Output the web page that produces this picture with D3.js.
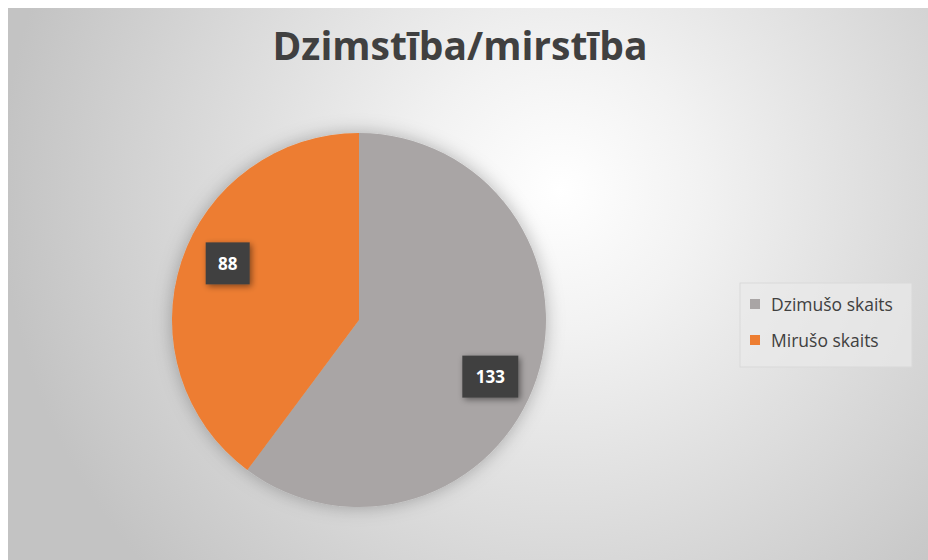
<!doctype html>
<html>
  <head>
    <meta charset="utf-8">
    <script src="https://cdnjs.cloudflare.com/ajax/libs/d3/7.8.5/d3.min.js"></script>
    <style>
      body { margin: 0; background: #fff; }
    </style>
  </head>
  <body>
    <svg id="chart" width="928" height="560"></svg>
    <script>
        // data
        var categories = ["Dzimušo skaits", "Mirušo skaits"];
        var values = [133, 88];
        var colors = ["#a9a5a5", "#ed7d31"];
        var title = "Dzimstība/mirstība";

        var svg = d3.select("#chart");
        var defs = svg.append("defs");

        var bg = defs.append("radialGradient")
            .attr("id", "bg")
            .attr("gradientUnits", "userSpaceOnUse")
            .attr("cx", 560).attr("cy", 190).attr("r", 560);
        bg.append("stop").attr("offset", "0").attr("stop-color", "#ffffff");
        bg.append("stop").attr("offset", "0.25").attr("stop-color", "#f2f2f2");
        bg.append("stop").attr("offset", "1").attr("stop-color", "#c3c3c3");

        var sh = defs.append("filter").attr("id", "shadow")
            .attr("x", "-30%").attr("y", "-30%").attr("width", "160%").attr("height", "160%");
        sh.append("feDropShadow").attr("dx", 0).attr("dy", 0)
            .attr("stdDeviation", 9).attr("flood-color", "#000").attr("flood-opacity", 0.28);

        var sh2 = defs.append("filter").attr("id", "boxshadow")
            .attr("x", "-40%").attr("y", "-40%").attr("width", "180%").attr("height", "180%");
        sh2.append("feDropShadow").attr("dx", 2).attr("dy", 2)
            .attr("stdDeviation", 3).attr("flood-color", "#000").attr("flood-opacity", 0.45);

        svg.append("rect")
            .attr("x", 8).attr("y", 8).attr("width", 920).attr("height", 552)
            .attr("fill", "url(#bg)");

        svg.append("text")
            .attr("x", 460).attr("y", 60)
            .attr("text-anchor", "middle")
            .style("font-family", "'Open Sans', sans-serif")
            .style("font-weight", "bold")
            .style("font-size", "39px")
            .style("fill", "#404040")
            .text(title);

        var cx = 359, cy = 320, r = 187;
        var pie = d3.pie().sort(null).value(d => d);
        var arcs = pie(values);
        var arc = d3.arc().innerRadius(0).outerRadius(r);
        var labelArc = d3.arc().innerRadius(143).outerRadius(143);
        var labelShift = 5 * Math.PI / 180;

        var g = svg.append("g").attr("transform", "translate(" + cx + "," + cy + ")");

        g.append("g").attr("filter", "url(#shadow)")
            .selectAll("path")
            .data(arcs)
            .enter()
            .append("path")
                .attr("d", arc)
                .attr("fill", (d, i) => colors[i]);

        var labels = g.selectAll("g.lbl")
            .data(arcs)
            .enter()
            .append("g")
                .attr("class", "lbl")
                .attr("transform", d => {
                    var c = labelArc.centroid({startAngle: d.startAngle + labelShift, endAngle: d.endAngle + labelShift});
                    return "translate(" + c[0] + "," + c[1] + ")";
                });

        labels.append("rect")
            .attr("x", d => d.value >= 100 ? -28 : -22)
            .attr("y", -21)
            .attr("width", d => d.value >= 100 ? 56 : 44)
            .attr("height", 42)
            .attr("fill", "#404040")
            .attr("filter", "url(#boxshadow)");

        labels.append("text")
            .attr("text-anchor", "middle")
            .attr("dy", "0.36em")
            .style("font-family", "'Open Sans', sans-serif")
            .style("font-weight", "bold")
            .style("font-size", "17px")
            .style("fill", "#ffffff")
            .text(d => d.value);

        // legend
        var legend = svg.append("g").attr("transform", "translate(740,283)");
        legend.append("rect")
            .attr("width", 172).attr("height", 84)
            .attr("fill", "#e9e9e9").attr("fill-opacity", 0.7)
            .attr("stroke", "#d9d9d9");

        var item = legend.selectAll("g.item")
            .data(categories)
            .enter()
            .append("g")
                .attr("class", "item")
                .attr("transform", (d, i) => "translate(10," + (22 + i * 36) + ")");

        item.append("rect")
            .attr("x", 0).attr("y", -6)
            .attr("width", 10).attr("height", 10)
            .attr("fill", (d, i) => colors[i]);

        item.append("text")
            .attr("x", 21).attr("y", 6)
            .style("font-family", "'Open Sans', sans-serif")
            .style("font-size", "17.5px")
            .style("fill", "#404040")
            .text(d => d);
    </script>
  </body>
</html>
